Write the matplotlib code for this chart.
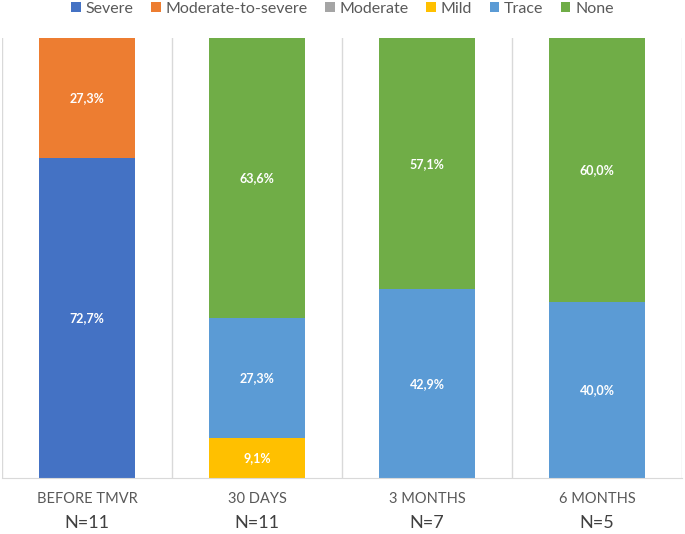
import matplotlib
matplotlib.use("Agg")
import matplotlib.pyplot as plt
from matplotlib.patches import Patch
from matplotlib.transforms import blended_transform_factory

plt.rcParams['font.family'] = ['Lato', 'DejaVu Sans']

categories = ["BEFORE TMVR", "30 DAYS", "3 MONTHS", "6 MONTHS"]
n_labels = ["N=11", "N=11", "N=7", "N=5"]
series_names = ["Severe", "Moderate-to-severe", "Moderate", "Mild", "Trace", "None"]
severe = [72.7, 0, 0, 0]
mod_to_severe = [27.3, 0, 0, 0]
moderate = [0, 0, 0, 0]
mild = [0, 9.1, 0, 0]
trace = [0, 27.3, 42.9, 40.0]
none = [0, 63.6, 57.1, 60.0]
colors = ["#4472C4", "#ED7D31", "#A5A5A5", "#FFC000", "#5B9BD5", "#70AD47"]

series = [severe, mod_to_severe, moderate, mild, trace, none]

fig = plt.figure(figsize=(6.85, 5.34), dpi=100)
ax = fig.add_axes([2/685, 56/534, 680/685, 440/534])

x = list(range(len(categories)))
bottoms = [0.0] * len(categories)
for name, vals, c in zip(series_names, series, colors):
    ax.bar(x, vals, bottom=bottoms, width=0.56, color=c, edgecolor='none', zorder=2)
    for i, v in enumerate(vals):
        if v > 0:
            ax.text(i, bottoms[i] + v / 2, f"{v:.1f}%".replace('.', ','),
                    ha='center', va='center', color='white', fontsize=9,
                    fontweight='bold', zorder=3)
    bottoms = [b + v for b, v in zip(bottoms, vals)]

ax.set_xlim(-0.5, len(categories) - 0.5)
ax.set_ylim(0, 100)
ax.set_yticks([])
for b in [i - 0.5 for i in range(len(categories) + 1)]:
    ax.axvline(b, color='#D9D9D9', lw=1, zorder=1)
for s in ['top', 'right', 'left']:
    ax.spines[s].set_visible(False)
ax.spines['bottom'].set_color('#D9D9D9')
ax.set_xticks(x)
ax.set_xticklabels(categories, fontsize=10.5, color='#595959')
ax.tick_params(axis='x', length=0, pad=10)

trans = blended_transform_factory(ax.transData, fig.transFigure)
for i, t in enumerate(n_labels):
    ax.text(i, 1 - 523/534, t, transform=trans, ha='center', va='center',
            fontsize=13, color='#404040')

handles = [Patch(facecolor=c, edgecolor='none', label=n) for n, c in zip(series_names, colors)]
fig.legend(handles=handles, loc='center', bbox_to_anchor=(0.5, 1 - 9/534), ncol=6,
           frameon=False, fontsize=11.5, handlelength=0.6, handleheight=0.6,
           handletextpad=0.3, columnspacing=1.1, labelcolor='#595959')

fig.savefig("out.png", dpi=100)
